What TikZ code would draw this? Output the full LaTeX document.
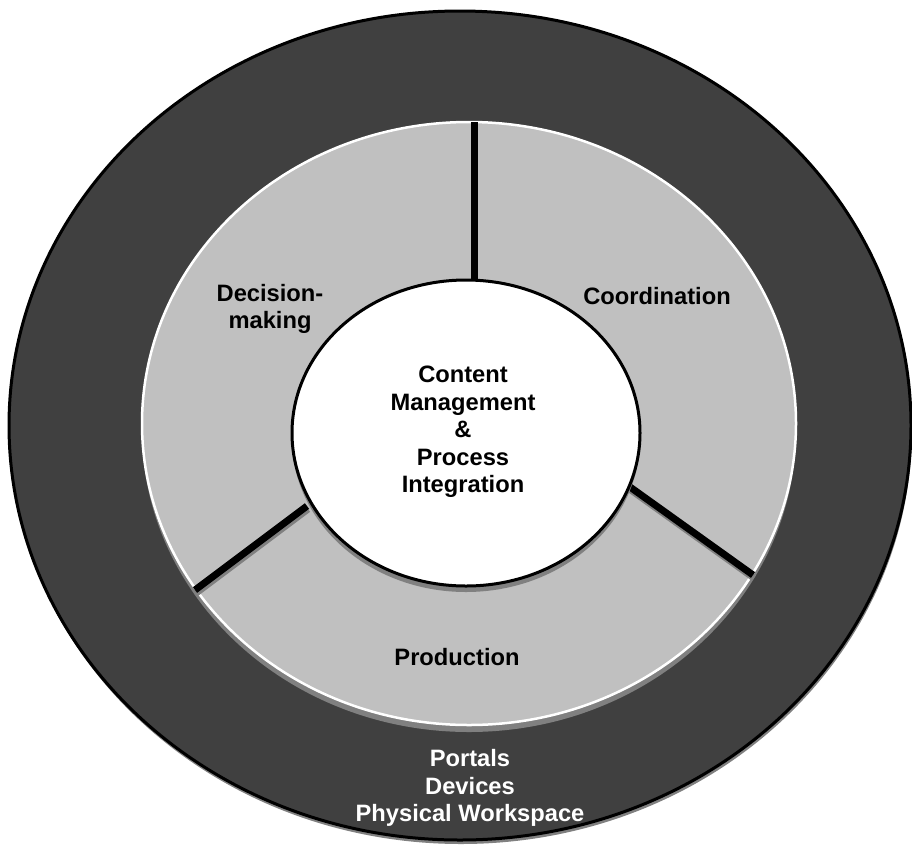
\documentclass[tikz,border=0pt]{standalone}
\usepackage{fontspec}
\setmainfont{Liberation Sans}
\definecolor{darkring}{HTML}{404040}
\definecolor{lightring}{HTML}{C0C0C0}
\definecolor{shadowgray}{HTML}{808080}
\begin{document}
\begin{tikzpicture}[x=1pt,y=-1pt,
  lbl/.style={font=\fontsize{23.7}{27.5}\selectfont\bfseries, align=center, inner sep=0pt},
  divider/.style={line width=7pt, draw=black},
  dshadow/.style={line width=7pt, draw=shadowgray}]
\useasboundingbox (0,0) rectangle (912,852);
% outer ring
\fill[shadowgray] (461,429.5) ellipse [x radius=451, y radius=414.5];
\filldraw[fill=darkring, draw=black, line width=3pt] (460,425.5) ellipse [x radius=451, y radius=414.5];
% middle ring
\fill[shadowgray] (469,430.5) ellipse [x radius=327, y radius=301.5];
\filldraw[fill=lightring, draw=white, line width=2.5pt] (469,423.5) ellipse [x radius=327, y radius=301.5];
% divider end points
\coordinate (topO) at (474,122);
\coordinate (topI) at (474,282);
\coordinate (rI) at (630,487);
\coordinate (rO) at (753,575);
\coordinate (lI) at (307,506);
\coordinate (lO) at (195,590);
\draw[dshadow] ([shift={(1,3)}]rI) -- ([shift={(1,3)}]rO);
\draw[dshadow] ([shift={(1,3)}]lI) -- ([shift={(1,3)}]lO);
\draw[divider] (topO) -- (topI);
\draw[divider] (rI) -- (rO);
\draw[divider] (lI) -- (lO);
% inner circle
\fill[shadowgray] (466,439) ellipse [x radius=174, y radius=153];
\filldraw[fill=white, draw=black, line width=3pt] (466,433) ellipse [x radius=174, y radius=153];
% labels
\node[lbl] (core) at (463,432) {Content\\Management\\\&\\Process\\Integration};
\node[lbl] (decision) at (270,309) {Decision-\\making};
\node[lbl] (coord) at (657,296) {Coordination};
\node[lbl] (prod) at (457,657) {Production};
\node[lbl, text=white] (portals) at (470,788) {Portals\\Devices\\Physical Workspace};
\end{tikzpicture}
\end{document}
